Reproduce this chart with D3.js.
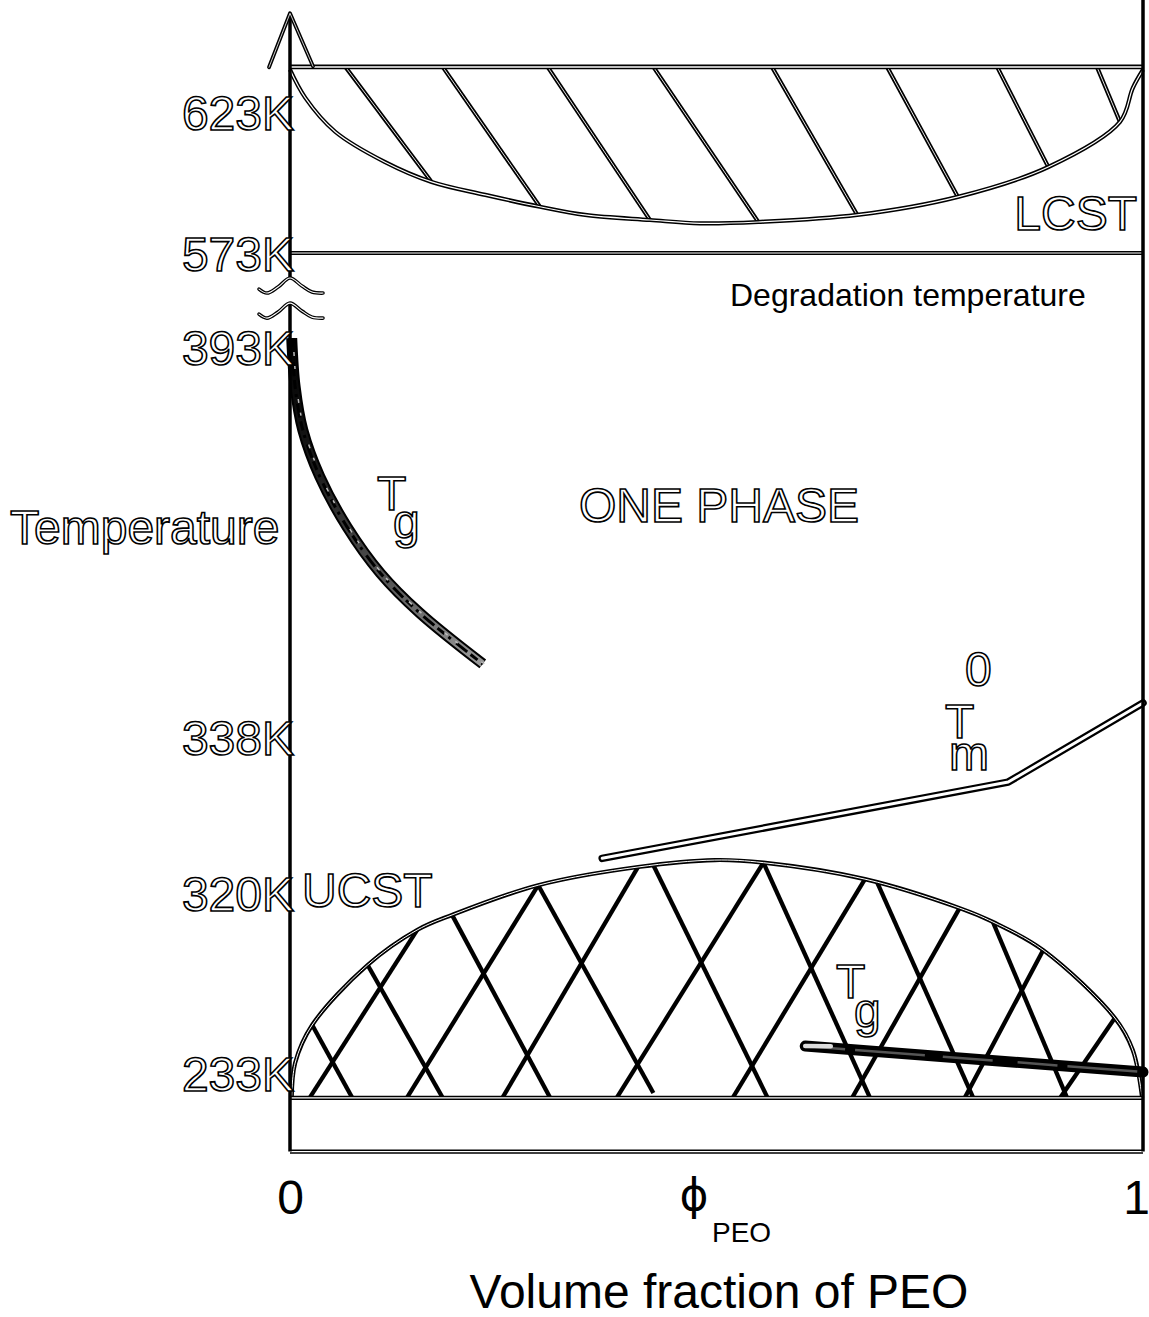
<!DOCTYPE html>
<html>
<head>
<meta charset="utf-8">
<script src="https://cdn.jsdelivr.net/npm/d3@7"></script>
<style>
  body { margin: 0; background: #fff; }
  text { font-family: "Liberation Sans", Arial, sans-serif; }
</style>
</head>
<body>
<svg id="chart"></svg>
<script>
// ---- data (phi = volume fraction of PEO, T in K) ----
const tickTemps = [623, 573, 393, 338, 320, 233];
const phiTicks = [0, 1];
const degradationT = 573;
const lcstTopT = 639;
const ucstBaseT = 221;
const floorT = 195;
const axisTopT = 658;
const frameTopT = 663;
const breakTemps = [525, 477];

const lcstCurve = [[0, 638], [0.018, 628], [0.053, 616], [0.111, 605.3], [0.166, 598.2], [0.229, 593.6],
  [0.293, 589.4], [0.346, 586.5], [0.422, 584.7], [0.481, 583.5], [0.549, 584], [0.665, 586.5],
  [0.783, 592.9], [0.889, 603.5], [0.973, 619.5], [0.988, 631.5], [1, 638]];
// [point on top line, point on curve]
const lcstHatch = [
  [[0.065, 639], [0.166, 598.2]], [[0.179, 639], [0.293, 589.4]], [[0.302, 639], [0.422, 584.7]],
  [[0.426, 639], [0.549, 584]], [[0.565, 639], [0.665, 586.5]], [[0.700, 639], [0.783, 592.9]],
  [[0.829, 639], [0.889, 603.5]], [[0.946, 639], [0.973, 619.5]]];

const ucstDome = [[0.002, 221], [0.006, 237.8], [0.026, 256.2], [0.091, 285.2], [0.149, 302.1],
  [0.190, 309.4], [0.291, 320.9], [0.408, 323], [0.498, 323.8], [0.555, 323.5], [0.674, 321.6],
  [0.785, 312.7], [0.824, 306], [0.883, 292.4], [0.967, 259.6], [0.988, 244.1], [0.999, 221]];
// [point on base line (or free end), point on dome]
const ucstHatch = [
  [[0.023, 221], [0.149, 302.1]], [[0.137, 221], [0.291, 320.9]], [[0.249, 221], [0.408, 323]],
  [[0.383, 221], [0.555, 323.5]], [[0.519, 221], [0.674, 321.6]], [[0.659, 221], [0.785, 312.7]],
  [[0.791, 221], [0.883, 292.4]], [[0.903, 221], [0.967, 259.6]],
  [[0.073, 221], [0.026, 256.2]], [[0.179, 221], [0.091, 285.2]], [[0.305, 221], [0.190, 309.4]],
  [[0.426, 223.3], [0.291, 320.9]], [[0.560, 221], [0.426, 323.2]], [[0.680, 221], [0.555, 323.5]],
  [[0.801, 221], [0.688, 321.3]], [[0.911, 221], [0.824, 306]]];

const tgLeft = [[0.002, 410], [0.006, 387.4], [0.015, 381.3], [0.035, 374.7], [0.067, 367.6],
  [0.106, 361.1], [0.152, 355.5], [0.226, 348.3]];
const tgPEO = [[0.604, 246], [1, 233.5]];
const tmZero = [[0.366, 324], [0.842, 332.8], [1, 342.8]];

// ---- setup ----
const width = 1149, height = 1317;
const svg = d3.select('#chart').attr('width', width).attr('height', height);

const x = d3.scaleLinear().domain([0, 1]).range([290, 1143]);
// broken, schematic temperature axis: piecewise linear through the labelled temperatures
const y = d3.scaleLinear().domain(d3.sort(tickTemps)).range([1073, 893, 737, 347, 253, 112]);

const straight = d3.line(d => x(d[0]), d => y(d[1]));
const smooth = d3.line(d => x(d[0]), d => y(d[1])).curve(d3.curveCatmullRom.alpha(0.5));

// outlined ("hollow") stroke like the scanned original
const hollow = (g, d, outer, inner, cap = 'butt') => {
  g.append('path').attr('d', d).attr('fill', 'none').attr('stroke', '#000')
    .attr('stroke-width', outer).attr('stroke-linecap', cap).attr('stroke-linejoin', 'round');
  g.append('path').attr('d', d).attr('fill', 'none').attr('stroke', '#fff')
    .attr('stroke-width', inner).attr('stroke-linecap', cap).attr('stroke-linejoin', 'round');
};

// hatch segment, curve end pushed a bit past the curve and clipped back
const hatchPath = ([a, b], ext) => {
  const ax = x(a[0]), ay = y(a[1]), bx = x(b[0]), by = y(b[1]);
  const len = Math.hypot(bx - ax, by - ay);
  return `M${ax},${ay}L${bx + (bx - ax) / len * ext},${by + (by - ay) / len * ext}`;
};

const defs = svg.append('defs');
const lcstArea = smooth(lcstCurve) + `L${x(1)},${y(lcstTopT)}L${x(0)},${y(lcstTopT)}Z`;
const ucstArea = smooth(ucstDome) + 'Z';
defs.append('clipPath').attr('id', 'lcstClip').append('path').attr('d', lcstArea);
defs.append('clipPath').attr('id', 'ucstClip').append('path').attr('d', ucstArea);

const tgGrad = defs.append('linearGradient').attr('id', 'tgGrad')
  .attr('gradientUnits', 'userSpaceOnUse')
  .attr('x1', 0).attr('x2', 0).attr('y1', y(tgLeft[0][1])).attr('y2', y(tgLeft.at(-1)[1]));
tgGrad.append('stop').attr('offset', 0).attr('stop-color', '#000');
tgGrad.append('stop').attr('offset', 0.4).attr('stop-color', '#1a1a1a');
tgGrad.append('stop').attr('offset', 0.75).attr('stop-color', '#555');
tgGrad.append('stop').attr('offset', 1).attr('stop-color', '#999');

// ---- LCST region ----
const lcstG = svg.append('g');
const lcstHatchG = lcstG.append('g').attr('clip-path', 'url(#lcstClip)');
lcstHatch.forEach(h => hollow(lcstHatchG, hatchPath(h, 10), 4.2, 0.9));
hollow(lcstG, smooth(lcstCurve), 4.2, 1.2);
hollow(lcstG, straight([[0, lcstTopT], [1, lcstTopT]]), 4.8, 1.5);
hollow(lcstG, straight([[0, degradationT], [1, degradationT]]), 4, 1.2);

// ---- UCST region ----
const ucstG = svg.append('g');
ucstG.append('g').attr('clip-path', 'url(#ucstClip)')
  .selectAll('path').data(ucstHatch).join('path')
  .attr('d', h => hatchPath(h, 10))
  .attr('fill', 'none').attr('stroke', '#000').attr('stroke-width', 4.3);
hollow(ucstG, smooth(ucstDome), 4.2, 1);
hollow(ucstG, straight([[0, ucstBaseT], [1, ucstBaseT]]), 4.2, 1.2);
hollow(ucstG, straight([[0, floorT], [1, floorT]]), 4.2, 1.2);

// ---- melting line ----
hollow(svg.append('g'), straight(tmZero), 7.5, 3, 'round');

// ---- glass transition bands ----
const tgG = svg.append('g');
tgG.append('path').attr('d', smooth(tgLeft)).attr('fill', 'none')
  .attr('stroke', '#000').attr('stroke-width', 11);
tgG.append('path').attr('d', smooth(tgLeft)).attr('fill', 'none')
  .attr('stroke', 'url(#tgGrad)').attr('stroke-width', 7);
tgG.append('path').attr('d', smooth(tgLeft)).attr('fill', 'none')
  .attr('stroke', '#000').attr('stroke-width', 3).attr('stroke-dasharray', '9 5 3 7 14 4');
tgG.append('path').attr('d', smooth(tgLeft)).attr('fill', 'none')
  .attr('stroke', '#bbb').attr('stroke-width', 1.5).attr('stroke-dasharray', '0 14 4 10 3 16')
  .attr('transform', 'translate(1.5,0)');

tgG.append('path').attr('d', straight(tgPEO)).attr('fill', 'none')
  .attr('stroke', '#000').attr('stroke-width', 11).attr('stroke-linecap', 'round');
tgG.append('path').attr('d', straight(tgPEO)).attr('fill', 'none')
  .attr('stroke', '#555').attr('stroke-width', 2.5).attr('stroke-dasharray', '40 10 70 18 50 25');
tgG.append('path').attr('d', straight([tgPEO[0], [tgPEO[0][0] + 0.03, tgPEO[0][1] - 0.1]]))
  .attr('fill', 'none').attr('stroke', '#ddd').attr('stroke-width', 4.5).attr('stroke-linecap', 'round');

// ---- frame and broken temperature axis ----
const axisG = svg.append('g');
axisG.append('path').attr('d', straight([[1, frameTopT], [1, floorT]]))
  .attr('stroke', '#000').attr('stroke-width', 3.5);
axisG.append('path').attr('d', straight([[0, axisTopT], [0, breakTemps[0]]]))
  .attr('stroke', '#000').attr('stroke-width', 3.5);
axisG.append('path').attr('d', straight([[0, breakTemps[1]], [0, floorT]]))
  .attr('stroke', '#000').attr('stroke-width', 3.5);
// arrow head
const tipX = x(0), tipY = y(axisTopT);
hollow(axisG, `M${tipX - 21},${tipY + 54}L${tipX},${tipY}L${tipX + 23},${tipY + 53}`, 3.8, 0.8, 'round');
// break marks
const wave = d3.line().curve(d3.curveCatmullRom.alpha(0.5));
const waveShape = [[-31, 11], [-23, 15], [-12, 9], [0, 0], [12, 8], [22, 14], [33, 15]];
breakTemps.forEach(t => {
  const pts = waveShape.map(([dx, dy]) => [x(0) + dx, y(t) + dy]);
  hollow(axisG, wave(pts), 3.6, 1.1, 'round');
});

// tick labels through d3 axes
const font = '"Liberation Sans", Arial, sans-serif';
const yAxis = d3.axisLeft(y).tickValues(tickTemps).tickFormat(d => d + 'K').tickSize(0).tickPadding(-4);
const yAxisG = svg.append('g').attr('transform', `translate(${x(0)},0)`).call(yAxis);
yAxisG.select('.domain').remove();
yAxisG.selectAll('text').attr('font-family', font).attr('font-size', 48).attr('dy', '0.36em')
  .attr('fill', '#fff').attr('stroke', '#000').attr('stroke-width', 1.6);

const xAxis = d3.axisBottom(x).tickValues(phiTicks).tickFormat(d3.format('d')).tickSize(0).tickPadding(28);
const xAxisG = svg.append('g').attr('transform', `translate(0,${y(floorT)})`).call(xAxis);
xAxisG.select('.domain').remove();
xAxisG.selectAll('text').attr('font-family', font).attr('font-size', 48).attr('fill', '#000')
  .attr('dx', d => d === 1 ? -7 : 0);

// ---- annotations ----
const label = (txt, px, py, size, opts = {}) => {
  const t = svg.append('text').attr('x', px).attr('y', py).attr('font-size', size)
    .attr('text-anchor', opts.anchor || 'start').text(txt);
  if (opts.family) t.style('font-family', opts.family);
  if (opts.hollow) t.attr('fill', '#fff').attr('stroke', '#000').attr('stroke-width', 1.6);
  else t.attr('fill', '#000');
  return t;
};
label('Temperature', 10, 544, 48, { hollow: true });
label('ONE PHASE', 719, 522, 48, { anchor: 'middle', hollow: true });
label('LCST', 1137, 230, 48, { anchor: 'end', hollow: true });
label('UCST', 302, 907, 48, { hollow: true });
label('Degradation temperature', 730, 306, 32);
label('T', 377, 510, 48, { hollow: true });
label('g', 393, 538, 48, { hollow: true });
label('T', 836, 998, 48, { hollow: true });
label('g', 854, 1027, 48, { hollow: true });
label('T', 945, 738, 48, { hollow: true });
label('0', 965, 686, 48, { hollow: true });
label('m', 949, 770, 48, { hollow: true });
label('\u03d5', 694, 1210, 44, { anchor: 'middle', family: '"DejaVu Sans", sans-serif' });
label('PEO', 712, 1242, 28);
label('Volume fraction of PEO', 719, 1308, 48, { anchor: 'middle' });
</script>
</body>
</html>
